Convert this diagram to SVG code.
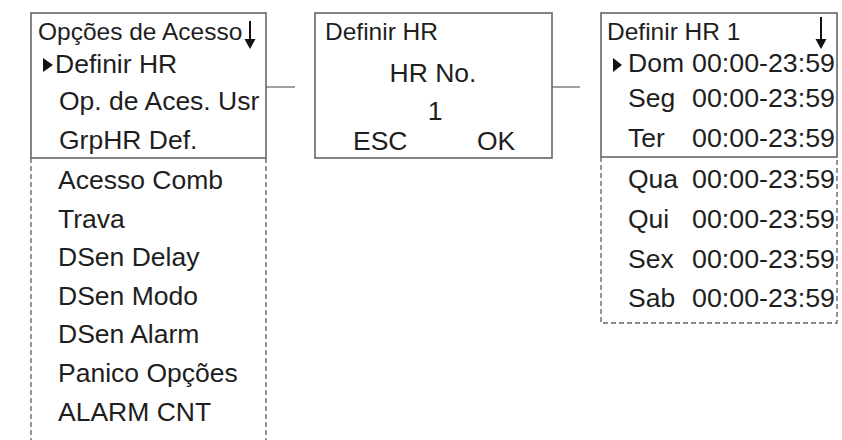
<svg xmlns="http://www.w3.org/2000/svg" width="842" height="440" viewBox="0 0 842 440">
<style>
.box{fill:none;stroke:#666;stroke-width:1.6}
.dash{fill:none;stroke:#666;stroke-width:1.4;stroke-dasharray:5 3}
.conn{stroke:#777;stroke-width:1.4}
.t{font-family:"Liberation Sans",Arial,sans-serif;font-size:26.5px;fill:#1e1e1e}
.h{font-family:"Liberation Sans",Arial,sans-serif;font-size:24.5px;fill:#1e1e1e}
.ar{stroke:#111;stroke-width:2}
.hd{fill:#111}
</style>
<rect width="842" height="440" fill="#fff"/>
<g id="connectors">
<line class="conn" x1="266" y1="87" x2="295" y2="87"/>
<line class="conn" x1="552" y1="87" x2="580" y2="87"/>
</g>
<g id="menu-opcoes">
<rect class="box" x="31" y="13" width="235" height="145"/>
<path class="dash" d="M31 158 V442 M266 158 V442"/>
<text class="h" x="38" y="40">Opções de Acesso</text>
<line class="ar" x1="250" y1="21" x2="250" y2="41"/>
<polygon class="hd" points="244.5,39 255.5,39 250,49"/>
<polygon class="hd" points="43,58 53,65 43,72"/>
<text class="t" x="55" y="73">Definir HR</text>
<text class="t" x="59" y="110">Op. de Aces. Usr</text>
<text class="t" x="59" y="149">GrpHR Def.</text>
<text class="t" x="58" y="189">Acesso Comb</text>
<text class="t" x="58" y="227.6">Trava</text>
<text class="t" x="58" y="266.2">DSen Delay</text>
<text class="t" x="58" y="304.8">DSen Modo</text>
<text class="t" x="58" y="343.4">DSen Alarm</text>
<text class="t" x="58" y="382">Panico Opções</text>
<text class="t" x="58" y="420.6">ALARM CNT</text>
</g>
<g id="definir-hr">
<rect class="box" x="315" y="13" width="237" height="145"/>
<text class="h" x="325" y="40">Definir HR</text>
<text class="t" x="433" y="82" text-anchor="middle">HR No.</text>
<text class="t" x="435" y="120" text-anchor="middle">1</text>
<text class="t" x="353" y="150">ESC</text>
<text class="t" x="477" y="150">OK</text>
</g>
<g id="definir-hr-1">
<rect class="box" x="601" y="13" width="236" height="144"/>
<path class="dash" d="M601 157 V323 H837 V157"/>
<text class="h" x="607" y="40">Definir HR 1</text>
<line class="ar" x1="821" y1="17" x2="821" y2="41"/>
<polygon class="hd" points="815.5,39 826.5,39 821,49"/>
<polygon class="hd" points="613,58 622,65 613,72"/>
<text class="t" x="628" y="72">Dom</text>
<text class="t" x="628" y="107">Seg</text>
<text class="t" x="628" y="147">Ter</text>
<text class="t" x="628" y="188">Qua</text>
<text class="t" x="628" y="228">Qui</text>
<text class="t" x="628" y="268">Sex</text>
<text class="t" x="628" y="307">Sab</text>
<text class="t" x="692" y="72" textLength="143" lengthAdjust="spacingAndGlyphs">00:00-23:59</text>
<text class="t" x="692" y="107" textLength="143" lengthAdjust="spacingAndGlyphs">00:00-23:59</text>
<text class="t" x="692" y="147" textLength="143" lengthAdjust="spacingAndGlyphs">00:00-23:59</text>
<text class="t" x="692" y="188" textLength="143" lengthAdjust="spacingAndGlyphs">00:00-23:59</text>
<text class="t" x="692" y="228" textLength="143" lengthAdjust="spacingAndGlyphs">00:00-23:59</text>
<text class="t" x="692" y="268" textLength="143" lengthAdjust="spacingAndGlyphs">00:00-23:59</text>
<text class="t" x="692" y="307" textLength="143" lengthAdjust="spacingAndGlyphs">00:00-23:59</text>
</g>
</svg>
